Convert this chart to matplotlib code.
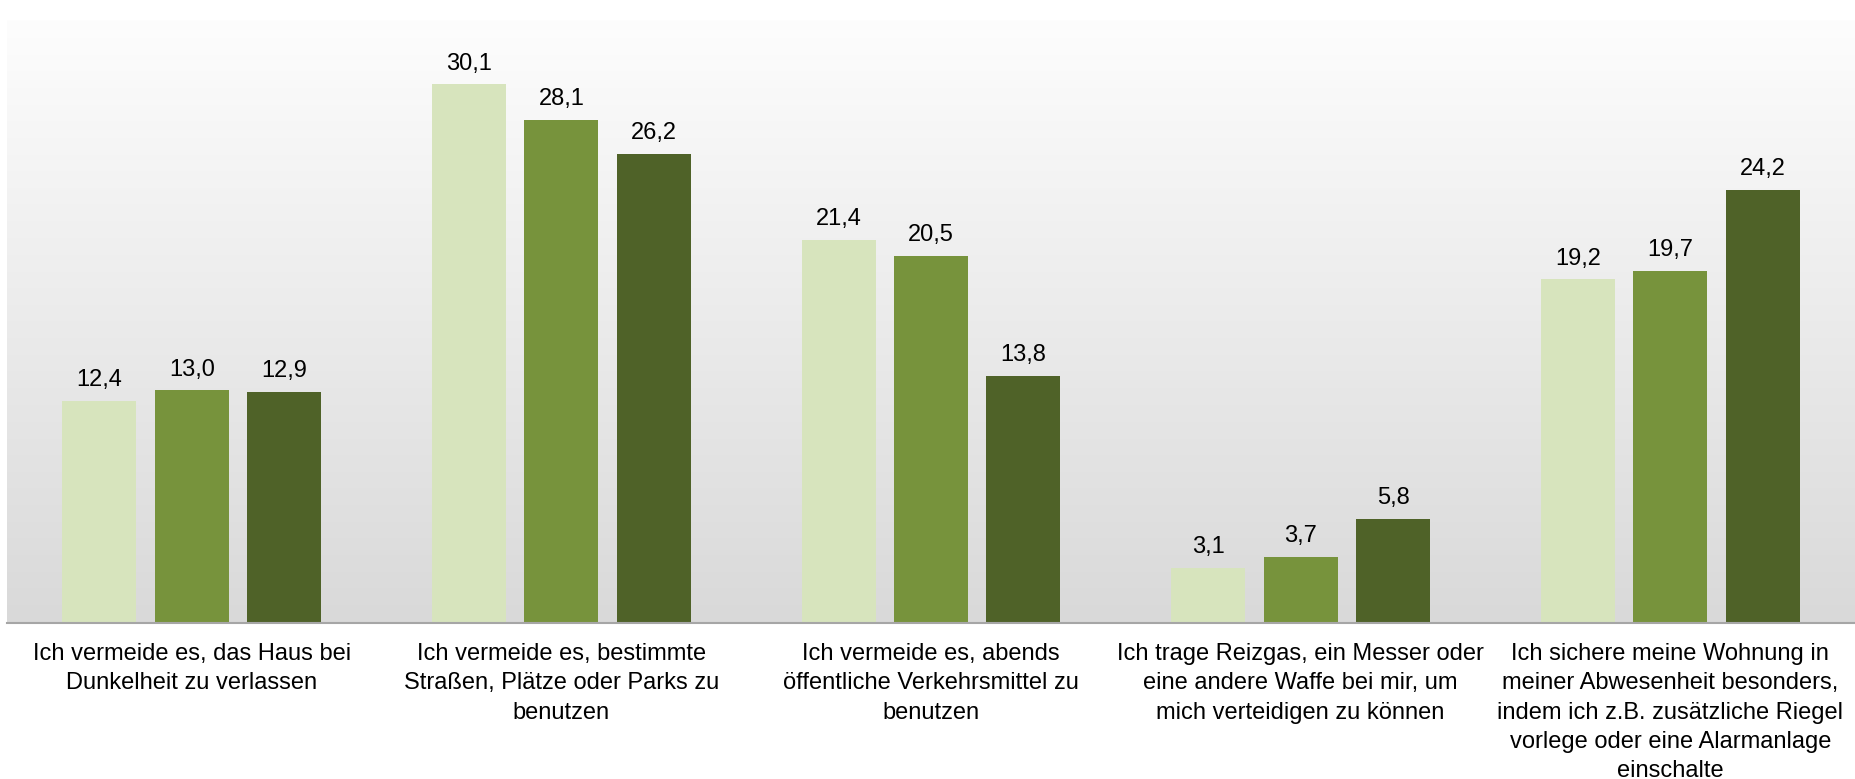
import numpy as np
import matplotlib
matplotlib.use("Agg")
import matplotlib.pyplot as plt

plt.rcParams['font.family'] = ['Liberation Sans', 'DejaVu Sans']

categories = [
    "Ich vermeide es, das Haus bei\nDunkelheit zu verlassen",
    "Ich vermeide es, bestimmte\nStraßen, Plätze oder Parks zu\nbenutzen",
    "Ich vermeide es, abends\nöffentliche Verkehrsmittel zu\nbenutzen",
    "Ich trage Reizgas, ein Messer oder\neine andere Waffe bei mir, um\nmich verteidigen zu können",
    "Ich sichere meine Wohnung in\nmeiner Abwesenheit besonders,\nindem ich z.B. zusätzliche Riegel\nvorlege oder eine Alarmanlage\neinschalte",
]
series_1 = [12.4, 30.1, 21.4, 3.1, 19.2]
series_2 = [13.0, 28.1, 20.5, 3.7, 19.7]
series_3 = [12.9, 26.2, 13.8, 5.8, 24.2]
colors = ["#d7e4bd", "#77933c", "#4f6228"]

fig = plt.figure(figsize=(18.55, 7.79), dpi=100)
ax = fig.add_axes([7 / 1855, 1 - 623 / 779, 1 - 7 / 1855, (623 - 20) / 779])

x = np.arange(len(categories))
ymax = 33.7
ax.set_xlim(-0.5, len(categories) - 0.5)
ax.set_ylim(0, ymax)

# background gradient, white at top to light grey at bottom
grad = np.linspace(0, 1, 256).reshape(-1, 1)
top = np.array([253, 253, 253]) / 255
bottom = np.array([217, 217, 217]) / 255
img = top + (bottom - top) * grad[:, :, None]
ax.imshow(img, extent=(-0.5, len(categories) - 0.5, 0, ymax), aspect='auto',
          origin='upper', zorder=0)

width = 0.2
step = 0.25
for i, vals in enumerate([series_1, series_2, series_3]):
    bars = ax.bar(x + (i - 1) * step, vals, width, color=colors[i], zorder=2)
    for b, v in zip(bars, vals):
        ax.annotate(f"{v:.1f}".replace(".", ","),
                    (b.get_x() + b.get_width() / 2, v),
                    xytext=(0, 7), textcoords="offset points",
                    ha="center", va="bottom", fontsize=17, color="#000000")

for s in ["top", "right", "left"]:
    ax.spines[s].set_visible(False)
ax.spines["bottom"].set_color("#a6a6a6")
ax.spines["bottom"].set_linewidth(1.5)
ax.set_yticks([])
ax.set_xticks(x)
ax.set_xticklabels(categories, fontsize=17, linespacing=1.43)
ax.tick_params(axis="x", length=0, pad=14.5)

fig.savefig("out.png", dpi=100)
